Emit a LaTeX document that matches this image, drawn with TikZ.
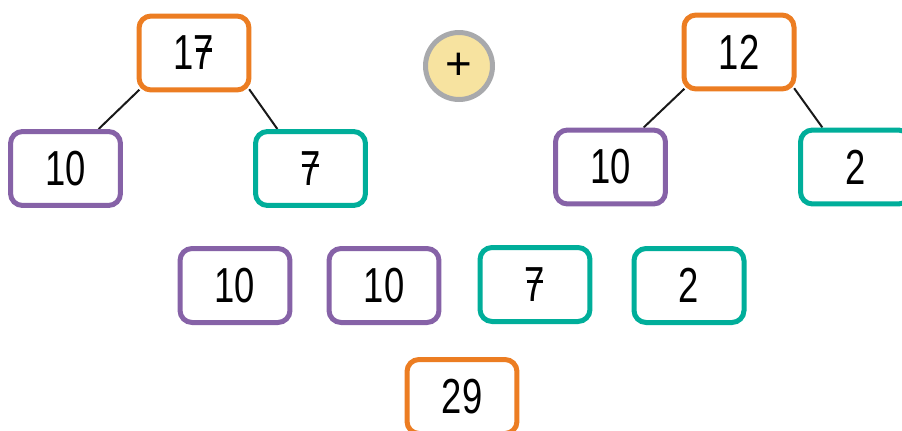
\documentclass[tikz,border=0pt]{standalone}
\usepackage{fontspec}
\setmainfont[FakeStretch=0.74]{Liberation Sans}
\newfontfamily\signfont{Liberation Sans}
\usetikzlibrary{positioning,backgrounds}
\definecolor{sumorange}{RGB}{236,125,34}
\definecolor{tenpurple}{RGB}{134,98,167}
\definecolor{oneteal}{RGB}{0,174,154}
\definecolor{signgray}{RGB}{168,169,172}
\definecolor{signfill}{RGB}{247,227,160}
\newcommand{\barseven}{\ooalign{7\cr\hidewidth\rule[0.37em]{0.34em}{0.07em}\hidewidth\cr}}
\tikzset{
  numbox/.style={rectangle,rounded corners=0.24cm,line width=0.1cm,fill=white,minimum width=2.2cm,minimum height=1.48cm,inner sep=0pt,font=\fontsize{28}{30}\selectfont},
  sumbox/.style={numbox,draw=sumorange},
  tensbox/.style={numbox,draw=tenpurple},
  onesbox/.style={numbox,draw=oneteal},
  signdot/.style={circle,line width=0.1cm,draw=signgray,fill=signfill,minimum size=1.34cm,inner sep=0pt,font=\signfont\fontsize{26}{26}\selectfont},
  branch/.style={line width=0.04cm,black!90,shorten <=-0.08cm}
}
\begin{document}
\begin{tikzpicture}[x=0.02cm,y=-0.02cm]
  \useasboundingbox (0,0) rectangle (902,430);
  \clip (0,0) rectangle (902,430);

  % first number split into tens and ones
  \node[sumbox] (p17) at (194,53) {1\barseven};
  \node[tensbox] (a10) at (65.5,168.5) {10};
  \node[onesbox] (b7) at (310.5,168.5) {\barseven};

  \node[signdot] (plus) at (459,66) {+};

  % second number split into tens and ones
  \node[sumbox] (p12) at (739,52) {12};
  \node[tensbox] (c10) at (610.5,167) {10};
  \node[onesbox] (d2) at (855.5,167) {2};

  \begin{scope}[on background layer]
    \draw[branch] (p17.south west) -- (a10.50);
    \draw[branch] (p17.south east) -- (b7.130);
    \draw[branch] (p12.south west) -- (c10.50);
    \draw[branch] (p12.south east) -- (d2.130);
  \end{scope}

  % parts gathered, then the total
  \node[tensbox] (e10) at (235,285.5) {10};
  \node[tensbox] (f10) at (384,285.5) {10};
  \node[onesbox] (g7) at (535,284.5) {\barseven};
  \node[onesbox] (h2) at (689,285.5) {2};
  \node[sumbox] (s29) at (462,396.5) {29};
\end{tikzpicture}
\end{document}
